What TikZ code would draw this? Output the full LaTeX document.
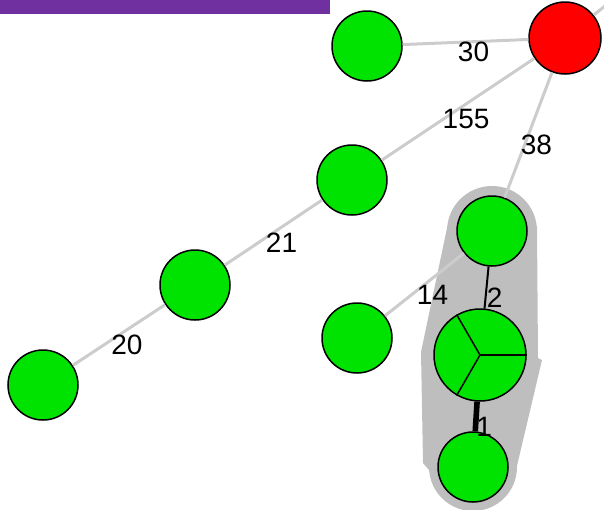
\documentclass[tikz,border=0pt]{standalone}
\usepackage{fontspec}
\setmainfont{Liberation Sans}
\definecolor{vgreen}{RGB}{0,226,0}
\definecolor{vred}{RGB}{255,0,0}
\definecolor{edgegrey}{RGB}{204,204,204}
\definecolor{hullgrey}{RGB}{190,190,190}
\definecolor{barpurple}{RGB}{112,48,160}
\begin{document}
\begin{tikzpicture}[x=0.5pt,y=-0.5pt,
  vertex/.style={circle,draw=black,line width=0.75pt,fill=vgreen,minimum size=35pt,inner sep=0pt},
  link/.style={draw=edgegrey,line width=1.5pt},
  elabel/.style={midway,xshift=4pt,yshift=-5pt,inner sep=0pt,font=\fontsize{14}{16}\selectfont}]
\clip (0,0) rectangle (604,509);

\fill[barpurple] (0,0) rectangle (330,14);

% group hull
\fill[hullgrey] (492,231) circle[radius=22.5pt];
\fill[hullgrey] (473,467) circle[radius=22pt];
\fill[hullgrey] (447,228) -- (537,228) -- (538,358) -- (542,360) -- (516,470)
  -- (429,470) -- (423,463) -- (421,352) -- cycle;

% vertices
\node[vertex,fill=vred,minimum size=36pt] (hub) at (565,38) {};
\node[vertex] (top) at (367,46) {};
\node[vertex] (mid) at (352,180) {};
\node[vertex] (left) at (195,285) {};
\node[vertex] (far) at (43,385) {};
\node[vertex] (side) at (357,338) {};
\node[vertex] (ga) at (492,231) {};
\node[vertex,minimum size=46pt] (pie) at (480,355) {};
\node[vertex] (gc) at (473,467) {};
\coordinate (out) at (640,-22);

% pie slices
\draw[line width=0.75pt] (pie.center) -- (pie.0);
\draw[line width=0.75pt] (pie.center) -- (pie.120);
\draw[line width=0.75pt] (pie.center) -- (pie.240);

% edges
\draw[link] (hub) -- (out);
\draw[link] (top) -- node[elabel] {30} (hub);
\draw[link] (mid) -- node[elabel] {155} (hub);
\draw[link] (ga) -- node[elabel] {38} (hub);
\draw[link] (left) -- node[elabel] {21} (mid);
\draw[link] (far) -- node[elabel] {20} (left);
\draw[link] (side) -- node[elabel] {14} (ga);
\draw[line width=1pt] (ga) -- node[elabel] {2} (pie);
\draw[line width=2.8pt] (pie) -- node[elabel] {1} (gc);

\end{tikzpicture}
\end{document}
